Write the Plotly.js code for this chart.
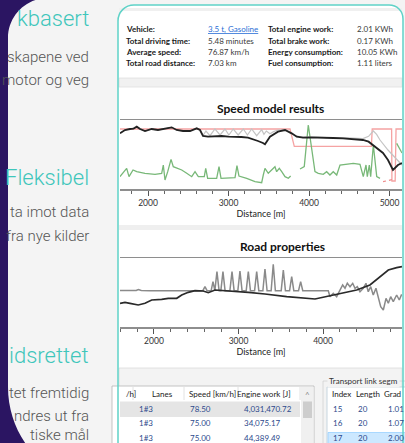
<!DOCTYPE html>
<html><head><meta charset="utf-8">
<script src="https://cdn.plot.ly/plotly-3.0.1.min.js"></script>
<style>html,body{margin:0;padding:0;background:#f4f4f4;}#chart{width:405px;height:443px;}</style>
</head><body><div id="chart"></div>
<script>
// ---------- Speed model results (distance [m], speed-like values) ----------
const speedModelDist = [1652,1714,1776,1820,1860,1901,1963,2010,2046,2124,2170,2211,2294,2356,2435,2522,2605,2646,2683,2745,2830,2915,3000,3081,3160,3242,3300,3366,3428,3453,3515,3615,3702,3785,3847,3925,4010,4095,4219,4300,4422,4546,4670,4740,4795,4860,4919,4981,5043,5105,5155];
const speedModel     = [83.5,88.5,90,90.5,93.5,90,87,88.5,90,88.5,89.5,90,92.5,88.5,87,87,91,88.5,79.5,78.5,79,79.5,78.5,78.5,78,77,75,72,69,67,78.5,86,88.5,83.5,78.5,77,77.5,77,76,76.5,76,75,73.5,71,66,60,54,43.5,28.5,36,39];

const speedAltDist = [1652,1714,1776,1860,1963,2046,2124,2211,2294,2356,2435,2522,2605,2646,2683,2720,2770,2832,2895,2956,3005,3059,3120,3184,3235,3288,3350,3412,3440,3470,3515,3560,3615,3702,3785,3847,3925,4095,4219,4422,4546,4670,4740,4799,4840,4882,4981,5068,5155];
const speedAlt     = [83.5,88.5,90,93.5,87,90,88.5,90,92.5,88.5,87,87,91,88.5,80,87,80,90,81,90,81,90,81,90,81,90,80,89,82,87,83,86,88.5,88.5,82.5,79.5,78,78,77,77,76,75.5,79,87,82,73.5,58.5,46.5,36];

const limitDist = [1652,3764,3817,4775,4785,5026,5030,5070,5081,5160];
const speedLimit = [90,90,64,64,90,90,12,12,90,90];

const limitEndDist = [4920,5030];
const speedLimitEnd = [11,14];

const powerDist = [1652,1689,1735,1764,1814,1860,1963,2087,2170,2190,2211,2245,2286,2314,2356,2419,2481,2543,2584,2625,2699,2717,2741,2853,2882,2907,3081,3105,3130,3226,3329,3412,3432,3453,3494,3536,3577,3598,3631,3661,3702,3743,3772,3800,3888,3941,3991,4033,4074,4115,4177,4219,4260,4301,4344,4385,4488,4550,4633,4674,4708,4724,4749,4766,4799,4841,4882,4900,5089,5155];
const power     = [18.5,24,31,18.5,28.5,26,23.5,22,23.5,36,13.5,26,44.5,33.5,31,28.5,23.5,18.5,26,18.5,18.5,31,16,16,33.5,16,17,35,19.5,16,11,9.5,21,31,23.5,28.5,33.5,26,31,26,18.5,16,19.5,null,30,33.5,96,61,26,23.5,22,26,21,26,21,36,37,38.5,37,18.5,36,18.5,36,18.5,66,18.5,16,null,68.5,54];

// ---------- Road properties ----------
const elevDist = [1598,1657,1716,1814,1894,1973,2091,2169,2269,2328,2406,2485,2583,2642,2722,2919,3116,3313,3570,3905,4121,4398,4555,4772,4871,4934];
const elevation = [47.4,49.4,47.4,44,47.4,54,55.4,57.4,57.4,64,69.4,72.6,72,68.6,74,72,69.4,66,60.6,56,64,74,84,114,118.6,120.6];

const curveDist = [1598,1700,1760,1790,1815,1850,1950,2100,2300,2500,2578,2603,2628,2676,2698,2720,2745,2770,2791,2816,2841,2898,2923,2948,2992,3017,3042,3091,3116,3141,3190,3215,3240,3288,3313,3338,3386,3411,3436,3505,3530,3555,3604,3629,3654,3710,3735,3760,4062,4082,4121,4161,4200,4232,4260,4287,4319,4351,4378,4405,4437,4476,4508,4535,4564,4594,4626,4653,4682,4713,4745,4772,4800,4831,4871,4902,4930];
const curvature = [73,73,74.5,73,75,73,72.5,73,72.6,72.6,72.6,80.6,72.6,72.6,90.6,72.6,110.6,72.6,72.6,110.6,72.6,72.6,110.6,72.6,72.6,112,72.6,72.6,110.6,72.6,72.6,110.6,72.6,72.6,116,72.6,72.6,125.4,72.6,72.6,114,72.6,72.6,100.6,72.6,72.6,90.6,72.6,72.6,60.6,67.4,60.6,73.4,84,77.4,87.4,80.6,87.4,77.4,80.6,70.6,77.4,87.4,70.6,80.6,64,77.4,60.6,40.6,34,57.4,47.4,60.6,50.6,64,54,65.4];

// ---------- Texts ----------
const infoLabels1 = ["Vehicle:","Total driving time:","Average speed:","Total road distance:"];
const infoValues1 = ["3.5 t, Gasoline","5.48 minutes","76.87 km/h","7.03 km"];
const infoLabels2 = ["Total engine work:","Total brake work:","Energy consumption:","Fuel consumption:"];
const infoValues2 = ["2.01 KWh","0.17 KWh","10.05 KWh","1.11 liters"];
const tableHeaders = ["/h]","Lanes","Speed [km/h]","Engine work [J]"];
const tableLanes = ["1#3","1#3","1#3"];
const tableSpeed = ["78.50","75.00","75.00"];
const tableWork = ["4,031,470.72","34,075.17","44,389.49"];
const segHeaders = ["Index","Length","Grad"];
const segIndex = ["15","16","17"];
const segLength = ["20","20","20"];
const segGrad = ["1.01","1.07","2.00"];
const headings = ["kbasert","Fleksibel","idsrettet"];
const bodyLines = [["skapene ved","motor og veg"],["ta imot data","fra nye kilder"],["tet fremtidig","ndres ut fra","tiske mål"]];

// ---------- Build ----------
const W = 405, H = 443;
const UI = "Lato, 'Noto Sans', sans-serif";
const ann = [];
function T(x, y, text, o) {
  o = o || {};
  ann.push({xref:'x', yref:'y', x:x, y:y, text:text, showarrow:false,
    xanchor:o.xa || 'left', yanchor:'middle',
    font:{family:o.family || UI, size:o.size || 8, color:o.color || '#1a1a1a', weight:o.weight || 400},
    bgcolor:o.bg || 'rgba(0,0,0,0)', borderpad:o.pad || 0});
}
const rowsY = [29, 40.7, 52.3, 63];
infoLabels1.forEach((t,i)=>T(125, rowsY[i], t, {weight:700}));
infoValues1.forEach((t,i)=>T(207, rowsY[i], i===0 ? '<span style="text-decoration:underline">'+t+'</span>' : t, {color: i===0 ? '#2a6fd6' : '#3a3a3a'}));
infoLabels2.forEach((t,i)=>T(267, rowsY[i], t, {weight:700}));
infoValues2.forEach((t,i)=>T(356, rowsY[i], t, {color:'#3a3a3a'}));

T(270, 108, 'Speed model results', {xa:'center', size:12, weight:700, color:'#111'});
T(282, 246, 'Road properties', {xa:'center', size:12, weight:700, color:'#111'});

const hdrX = [125, 162, 212, 263.5];
tableHeaders.forEach((t,i)=>T(hdrX[i], 394, t, {xa: i===0 ? 'left' : 'center', color:'#222'}));
T(307.5, 395, '^', {xa:'center', color:'#888', size:8});
const tRowY = [409.3, 423.3, 437.5];
const dataCol = '#2d4a8c';
tableLanes.forEach((t,i)=>T(138, tRowY[i], t, {color:dataCol}));
tableSpeed.forEach((t,i)=>T(189, tRowY[i], t, {color:dataCol}));
tableWork.forEach((t,i)=>T(243, tRowY[i], t, {color:dataCol}));

T(327, 380.7, 'Transport link segm', {color:'#333', bg:'#f3f3f3', pad:1});
const segX = [331, 355, 383.3];
segHeaders.forEach((t,i)=>T(segX[i], 394, t, {color:'#222'}));
segIndex.forEach((t,i)=>T(332, tRowY[i], t, {color:dataCol}));
segLength.forEach((t,i)=>T(357, tRowY[i], t, {color:dataCol}));
segGrad.forEach((t,i)=>T(387, tRowY[i], t, {color:dataCol}));

const headY = [18, 177, 355];
const bodyY = [[57, 80],[212, 236],[393, 416, 434.5]];
headings.forEach((t,i)=>T(90, headY[i], t, {xa:'right', family:'Roboto, sans-serif', size:22, weight:300, color:'#3fc6bb'}));
bodyLines.forEach((arr,i)=>arr.forEach((t,j)=>T(90, bodyY[i][j], t, {xa:'right', family:'Roboto, sans-serif', size:15, weight:300, color:'#555'})));

// decorative UI shapes (pixel coordinates on hidden full-size axes)
const S = [];
function R(x0,y0,x1,y1,fill,line,lw){S.push({type:'rect',xref:'x',yref:'y',x0:x0,y0:y0,x1:x1,y1:y1,fillcolor:fill,line:{color:line||'rgba(0,0,0,0)',width:line?(lw||1):0},layer:'below'});}
function P(path,fill,line,lw){S.push({type:'path',xref:'x',yref:'y',path:path,fillcolor:fill||'rgba(0,0,0,0)',line:{color:line||'rgba(0,0,0,0)',width:line?(lw||1):0},layer:'below'});}
// purple side
P('M 0,-2 L 48,-2 C 25.9,-2 8,15.9 8,38 L 8,387 C 8,442.2 52.8,487 108,487 L 0,487 Z', '#2b1562');
// app box
const boxPath = 'M 118,470 L 118,21 C 118,12 125,5 134,5 L 389,5 C 397,5 403,11 403,19 L 403,470';
P(boxPath + ' Z', '#ffffff');
R(119, 8, 402, 11, '#f0f0f0');
R(119, 78, 402, 87, '#f1f1f1', '#e0e0e0', 0.8);
R(119, 225, 402, 230, '#efefef');
R(119, 368, 402, 460, '#f3f3f3', '#dadada', 0.8);
// left table
R(112, 386, 314, 460, '#ffffff', '#b5b5b5', 0.8);
R(120, 401.5, 300, 417, '#e5e5e5');
R(301, 387, 313.5, 460, '#f0f0f0');
R(303, 401.5, 312, 418, '#cdcdcd');
[133, 184, 238, 300].forEach(x=>S.push({type:'line',xref:'x',yref:'y',x0:x,x1:x,y0:387,y1:400,line:{color:'#e2e2e2',width:1},layer:'below'}));
// right group
R(323, 381, 420, 460, 'rgba(0,0,0,0)', '#d0d0d0', 0.8);
R(327, 387, 420, 460, '#ffffff', '#b9cbd8', 0.8);
R(328, 432.5, 420, 460, '#cce8ff', '#99d1ff', 0.8);
// teal outline on top
P(boxPath, null, '#5fd2c7', 1.5);

const xTickFont = {family:UI, size:8.5, color:'#333'};
function xAx(domain, range, anchor){
  return {domain:domain, range:range, anchor:anchor, showline:true, mirror:true, linecolor:'#8e8e8e', linewidth:1.5,
    ticks:'outside', ticklen:5, tickwidth:1, tickcolor:'#555', tick0:0, dtick:1000,
    minor:{ticks:'outside', dtick:200, tick0:0, ticklen:3, tickcolor:'#666', tickwidth:1, showgrid:false},
    showgrid:false, zeroline:false, tickfont:xTickFont, fixedrange:true,
    title:{text:'Distance [m]', font:{family:UI, size:9, color:'#222'}, standoff:2}};
}
const layout = {
  width:W, height:H, margin:{l:0,r:0,t:0,b:0}, paper_bgcolor:'#f4f4f4', plot_bgcolor:'rgba(0,0,0,0)',
  showlegend:false,
  xaxis:{domain:[0,1], range:[0,W], visible:false, fixedrange:true},
  yaxis:{domain:[0,1], range:[H,0], visible:false, fixedrange:true},
  xaxis2: xAx([120/W, 402/W], [1652.2, 5155], 'y2'),
  yaxis2:{domain:[1-189/H, 1-120/H], range:[0,103.5], visible:false, anchor:'x2', fixedrange:true},
  xaxis3: xAx([120/W, 402/W], [1598, 4934], 'y3'),
  yaxis3:{domain:[1-327/H, 1-258/H], range:[0,138], visible:false, anchor:'x3', fixedrange:true},
  shapes:S, annotations:ann
};
const L = (x,y,color,w,ax,extra)=>Object.assign({type:'scatter', mode:'lines', x:x, y:y, xaxis:ax[0], yaxis:ax[1], line:{color:color, width:w}, hoverinfo:'skip', connectgaps:false}, extra||{});
const data = [
  {type:'scatter', x:[], y:[], xaxis:'x', yaxis:'y', hoverinfo:'skip'},
  L(limitDist, speedLimit, '#f5a3a3', 1.3, ['x2','y2']),
  L(limitEndDist, speedLimitEnd, '#ee8a8a', 1.2, ['x2','y2'], {line:{color:'#ee8a8a', width:1.2, dash:'3px,3px'}}),
  L(powerDist, power, '#78b878', 1.3, ['x2','y2']),
  L(speedAltDist, speedAlt, '#c4c4c4', 1.2, ['x2','y2']),
  L(speedModelDist, speedModel, '#222222', 1.8, ['x2','y2']),
  L(curveDist, curvature, '#8a8a8a', 1.5, ['x3','y3']),
  L(elevDist, elevation, '#2a2a2a', 1.7, ['x3','y3'])
];
Plotly.newPlot('chart', data, layout, {staticPlot:true, displayModeBar:false});
</script></body></html>
